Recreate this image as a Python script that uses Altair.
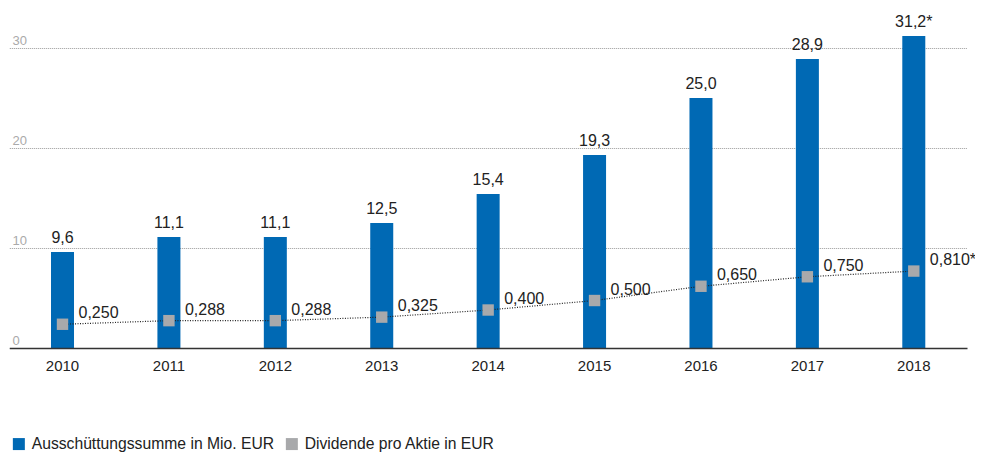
import altair as alt
import pandas as pd

years = ["2010", "2011", "2012", "2013", "2014", "2015", "2016", "2017", "2018"]
payout = [9.6, 11.1, 11.1, 12.5, 15.4, 19.3, 25.0, 28.9, 31.2]
payout_labels = ["9,6", "11,1", "11,1", "12,5", "15,4", "19,3", "25,0", "28,9", "31,2*"]
dividend = [0.250, 0.288, 0.288, 0.325, 0.400, 0.500, 0.650, 0.750, 0.810]
dividend_labels = ["0,250", "0,288", "0,288", "0,325", "0,400", "0,500", "0,650", "0,750", "0,810*"]
series = ["Ausschüttungssumme in Mio. EUR", "Dividende pro Aktie in EUR"]
y_ticks = [0, 10, 20, 30]

BLUE = "#0069b4"
GRAY = "#a8a9ab"
FONT = "Liberation Sans"

df = pd.DataFrame({
    "year": years,
    "payout": payout,
    "payout_label": payout_labels,
    "dividend": dividend,
    "dividend_label": dividend_labels,
    "s1": series[0],
    "s2": series[1],
})

xscale = alt.Scale(domain=years, range=[-0.7, 957], paddingInner=0, paddingOuter=0)
x = alt.X("year:N", scale=xscale, sort=years,
          axis=alt.Axis(title=None, labelAngle=0, ticks=False, domain=True,
                        domainColor="#333333", domainWidth=1.5, labelFontSize=15,
                        labelColor="#222222", labelPadding=10, labelFont=FONT, zindex=2))

color_scale = alt.Scale(domain=series, range=[BLUE, GRAY])
legend = alt.Legend(title=None, orient="none", legendX=1, legendY=428, direction="horizontal",
                    symbolType="square", symbolSize=144, symbolStrokeWidth=0,
                    labelFontSize=15.7, labelFont=FONT, labelColor="#222222",
                    labelOffset=5, columnPadding=9, labelLimit=400)

ybar = alt.Y("payout:Q", scale=alt.Scale(domain=[0, 34], nice=False),
             axis=alt.Axis(title=None, values=y_ticks, grid=True, gridDash=[1, 1],
                           gridColor="#9a9a9a", gridWidth=1, domain=False, ticks=False,
                           labelAlign="left", labelPadding=-2, labelBaseline="alphabetic",
                           labelOffset=-4, labelColor="#aaaaaa", labelFontSize=13,
                           labelFont=FONT))

bars = alt.Chart(df).mark_bar(size=23).encode(
    x=x, y=ybar,
    color=alt.Color("s1:N", scale=color_scale, legend=legend),
)
bar_text = alt.Chart(df).mark_text(baseline="bottom", dy=-6, fontSize=16, font=FONT,
                                   color="#222222").encode(
    x=alt.X("year:N", scale=xscale, sort=years), y=alt.Y("payout:Q"),
    text="payout_label:N",
)
bar_layer = alt.layer(bars, bar_text)

ydiv = alt.Y("dividend:Q", scale=alt.Scale(domain=[0, 3.58], nice=False), axis=None)
line = alt.Chart(df).mark_line(strokeDash=[1, 1.5], strokeWidth=1.2, color="#222222").encode(
    x=alt.X("year:N", scale=xscale, sort=years), y=ydiv,
)
points = alt.Chart(df).mark_square(size=130, opacity=1).encode(
    x=alt.X("year:N", scale=xscale, sort=years), y=ydiv,
    color=alt.Color("s2:N", scale=color_scale, legend=legend),
)
div_text = alt.Chart(df).mark_text(align="left", baseline="middle", dx=16, dy=-11,
                                   fontSize=16, font=FONT, color="#222222").encode(
    x=alt.X("year:N", scale=xscale, sort=years), y=ydiv,
    text="dividend_label:N",
)
div_layer = alt.layer(line, points, div_text)

chart = alt.layer(bar_layer, div_layer).resolve_scale(y="independent").properties(
    width=945, height=340,
    background="white",
    autosize=alt.AutoSizeParams(type="none"),
    padding={"left": 2, "top": 0, "right": 20, "bottom": 104},
).configure_view(strokeWidth=0, stroke="transparent")

chart.save("out.html", embed_options={"renderer": "svg", "actions": False})
